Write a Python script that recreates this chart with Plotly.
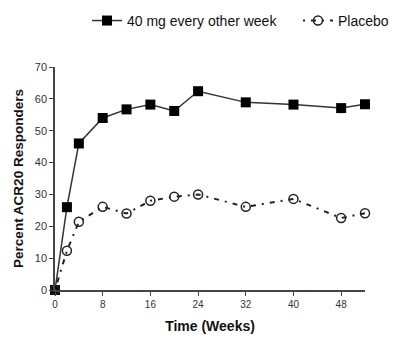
import plotly.graph_objects as go

weeks = [0, 2, 4, 8, 12, 16, 20, 24, 32, 40, 48, 52]
humira_40mg = [0, 26, 46, 54, 56.7, 58.2, 56.2, 62.4, 58.9, 58.2, 57.1, 58.3]
placebo = [0, 12.3, 21.4, 26.1, 24.0, 28.0, 29.3, 30.0, 26.1, 28.6, 22.6, 24.1]
x_ticks = [0, 8, 16, 24, 32, 40, 48]
y_ticks = [0, 10, 20, 30, 40, 50, 60, 70]

font_family = "Liberation Sans, Arial, sans-serif"

fig = go.Figure()
fig.add_trace(go.Scatter(
    x=weeks, y=humira_40mg, mode="lines+markers",
    name="40 mg every other week",
    line=dict(color="#333333", width=1.5),
    marker=dict(symbol="square", size=10, color="#000000",
                line=dict(color="#000000", width=0)),
    cliponaxis=False,
    legend="legend",
))
fig.add_trace(go.Scatter(
    x=weeks, y=placebo, mode="lines+markers",
    name="Placebo",
    line=dict(color="#222222", width=2, dash="2px,6px,5px,6px"),
    marker=dict(symbol="circle-open", size=9, color="#222222",
                line=dict(color="#222222", width=1.5)),
    cliponaxis=False,
    legend="legend2",
))

legend_common = dict(
    orientation="h", xref="container", yref="container",
    xanchor="left", y=0.94, yanchor="middle",
    font=dict(size=14, color="#111111"),
    bgcolor="rgba(0,0,0,0)", itemwidth=30,
)

fig.update_layout(
    width=400, height=349,
    margin=dict(l=55, r=35, t=67, b=59),
    paper_bgcolor="white", plot_bgcolor="white",
    font=dict(family=font_family, color="#111111"),
    showlegend=True,
    legend=dict(x=0.2175, **legend_common),
    legend2=dict(x=0.745, **legend_common),
    xaxis=dict(
        range=[0, 52], tickvals=x_ticks, ticktext=[str(v) for v in x_ticks],
        showgrid=False, zeroline=False, showline=True,
        linecolor="#444444", linewidth=1.5,
        ticks="outside", ticklen=4, tickcolor="#444444", tickwidth=1,
        tickfont=dict(size=10, color="#333333"),
        title=dict(text="<b>Time (Weeks)</b>", font=dict(size=14, color="#111111"), standoff=12),
    ),
    yaxis=dict(
        range=[0, 70], tickvals=y_ticks,
        showgrid=False, zeroline=False, showline=True,
        linecolor="#444444", linewidth=1.5,
        ticks="outside", ticklen=4, tickcolor="#444444", tickwidth=1,
        tickfont=dict(size=11, color="#333333"),
        title=dict(text="<b>Percent ACR20 Responders</b>", font=dict(size=13.5, color="#111111"), standoff=8),
    ),
)

fig.write_html("out.html")
